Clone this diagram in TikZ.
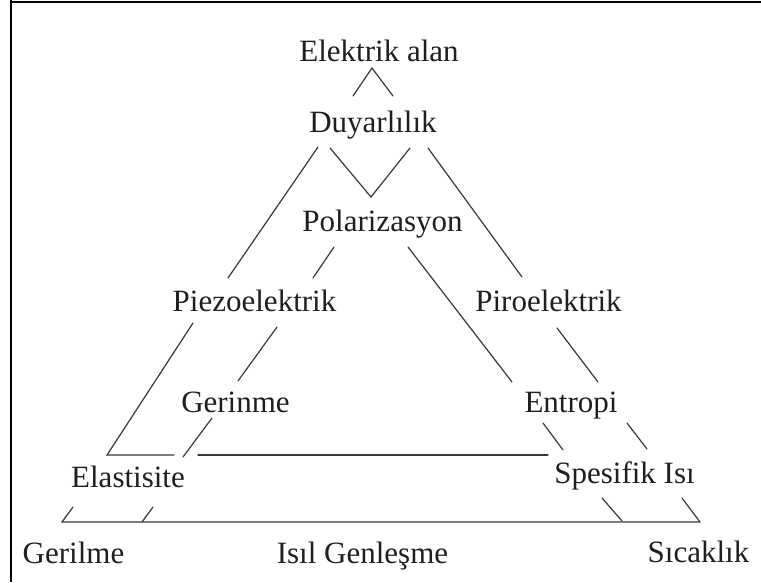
\documentclass[tikz,border=0pt]{standalone}
\usepackage{fontspec}
\setmainfont{Liberation Serif}
\newcommand\lbfont{\fontsize{31}{36}\selectfont}
\tikzset{
  lbl/.style={font=\lbfont, anchor=base, inner sep=0pt, text=black!88},
  conn/.style={line width=1.2pt, draw=black!78, line cap=round},
  frame/.style={line width=2pt, draw=black}
}
\begin{document}
\begin{tikzpicture}[x=1pt,y=-1pt]
\useasboundingbox (0,0) rectangle (761,582);
\fill[white] (0,0) rectangle (761,582);
% frame
\coordinate (fTL) at (10,1.5);
\coordinate (fTR) at (761,1.5);
\coordinate (fL1) at (11,0);
\coordinate (fL2) at (11,582);
\draw[frame] (fTL) -- (fTR);
\draw[frame] (fL1) -- (fL2);
% labels
\node[lbl] (elek) at (379,61) {Elektrik alan};
\node[lbl] (duy) at (373,132) {Duyarlılık};
\node[lbl] (pol) at (382.5,231) {Polarizasyon};
\node[lbl] (piezo) at (254.5,311) {Piezoelektrik};
\node[lbl] (piro) at (548.5,311) {Piroelektrik};
\node[lbl] (gerin) at (235.5,412) {Gerinme};
\node[lbl] (entr) at (571,412) {Entropi};
\node[lbl] (elast) at (128,487) {Elastisite};
\node[lbl] (spes) at (624.5,483) {Spesifik Isı};
\node[lbl] (geril) at (73.5,563) {Gerilme};
\node[lbl] (isil) at (362.5,563) {Isıl Genleşme};
\node[lbl] (sic) at (698.5,562) {Sıcaklık};
% line end points
\coordinate (a1) at (353,96);
\coordinate (a2) at (372,68);
\coordinate (a3) at (393,96);
\coordinate (v1) at (330,148);
\coordinate (v2) at (371,197);
\coordinate (v3) at (410,148);
% outer left
\coordinate (ol1) at (318,147);
\coordinate (ol2) at (228,278);
\coordinate (ol3) at (193,323);
\coordinate (ol4) at (107,455);
\coordinate (hl1) at (174,455);
\coordinate (ol5) at (73,507);
\coordinate (ol6) at (62,522);
\coordinate (br) at (700,522);
% inner left
\coordinate (il1) at (334,247);
\coordinate (il2) at (313,278);
\coordinate (il3) at (277,327);
\coordinate (il4) at (238,381);
\coordinate (il5) at (212,418);
\coordinate (il6) at (183,457);
\coordinate (il7) at (153,507);
\coordinate (il8) at (142,522);
% inner horizontal
\coordinate (h1) at (198,455);
\coordinate (h2) at (548,455);
% outer right
\coordinate (or1) at (428,148);
\coordinate (or2) at (522,277);
\coordinate (or3) at (557,328);
\coordinate (or4) at (598,382);
\coordinate (or5) at (627,423);
\coordinate (or6) at (647,449);
\coordinate (or7) at (682,498);
% inner right
\coordinate (ir1) at (408,247);
\coordinate (ir2) at (512,382);
\coordinate (ir3) at (543,423);
\coordinate (ir4) at (563,450);
\coordinate (ir5) at (602,498);
\coordinate (ir6) at (622,521);
% connectors
\draw[conn] (a1) -- (a2) -- (a3);
\draw[conn] (v1) -- (v2) -- (v3);
\draw[conn] (ol1) -- (ol2);
\draw[conn] (ol3) -- (ol4) -- (hl1);
\draw[conn] (ol5) -- (ol6) -- (br);
\draw[conn] (il1) -- (il2);
\draw[conn] (il3) -- (il4);
\draw[conn] (il5) -- (il6);
\draw[conn] (il7) -- (il8);
\draw[conn] (h1) -- (h2);
\draw[conn] (or1) -- (or2);
\draw[conn] (or3) -- (or4);
\draw[conn] (or5) -- (or6);
\draw[conn] (or7) -- (br);
\draw[conn] (ir1) -- (ir2);
\draw[conn] (ir3) -- (ir4);
\draw[conn] (ir5) -- (ir6);
\end{tikzpicture}
\end{document}
